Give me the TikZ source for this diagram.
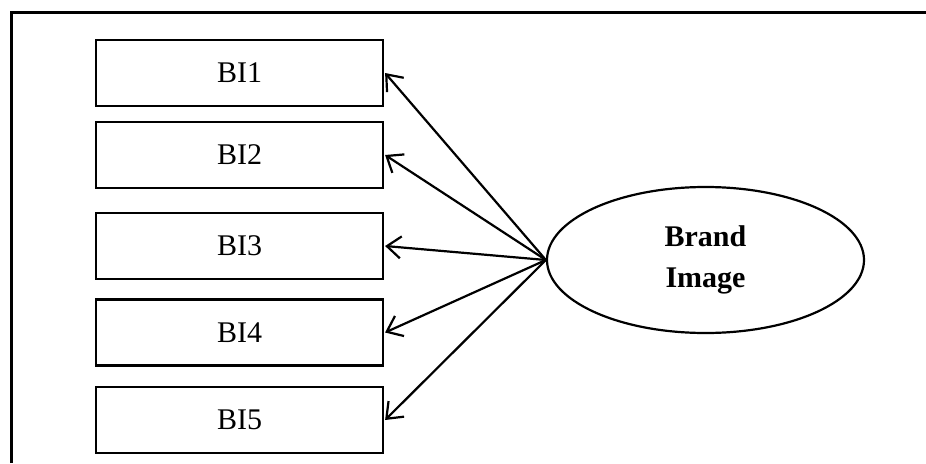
\documentclass[tikz,border=0pt]{standalone}
\usepackage{fontspec}
\setmainfont{Liberation Serif}
\usetikzlibrary{shapes.geometric,arrows.meta}
\begin{document}
\begin{tikzpicture}[x=1pt,y=-1pt,
  itembox/.style={draw,line width=2.2pt,rectangle,minimum width=287pt,
    minimum height=66pt,inner sep=0pt,font=\fontsize{30}{36}\selectfont},
  construct/.style={draw,line width=2.2pt,ellipse,minimum width=317pt,
    minimum height=146pt,inner sep=0pt,align=center,
    font=\fontsize{30}{41}\selectfont\bfseries},
  loading/.style={line width=2.2pt,-{Straight Barb[length=14pt,width=22pt,line width=2.2pt]}}]
  \useasboundingbox (0,0) rectangle (926,463);
  % outer frame (left and top edges)
  \draw[line width=3pt] (11,463) -- (11,12) -- (926,12);
  % indicator boxes
  \node[itembox] (bi1) at (239.5,73) {BI1};
  \node[itembox] (bi2) at (239.5,155) {BI2};
  \node[itembox] (bi3) at (239.5,246) {BI3};
  \node[itembox] (bi4) at (239.5,332.5) {BI4};
  \node[itembox] (bi5) at (239.5,420) {BI5};
  % latent construct
  \node[construct] (bimg) at (705.5,260) {Brand\\Image};
  % loadings
  \foreach \t in {bi1,bi2,bi3,bi4,bi5}
    \draw[loading] (bimg.west) -- ([xshift=1pt]\t.east);
\end{tikzpicture}
\end{document}
